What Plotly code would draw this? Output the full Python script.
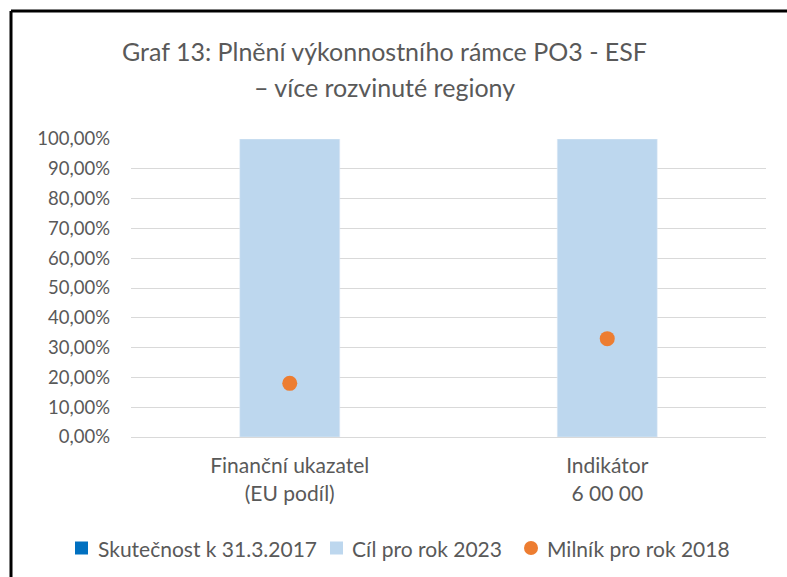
import plotly.graph_objects as go

categories = ["Finanční ukazatel<br>(EU podíl)", "Indikátor<br>6 00 00"]
skutecnost = [0.0, 0.0]
cil = [1.0, 1.0]
milnik = [0.18, 0.33]
title_lines = ["Graf 13: Plnění výkonnostního rámce PO3 - ESF", "– více rozvinuté regiony"]
series_names = ["Skutečnost k 31.3.2017", "Cíl pro rok 2023", "Milník pro rok 2018"]
series_colors = ["#0070C0", "#BDD7EE", "#ED7D31"]

FONT = "Lato, Liberation Sans, Arial, sans-serif"
GRAY = "#595959"

fig = go.Figure()
fig.add_trace(go.Bar(x=categories, y=skutecnost, name=series_names[0],
                     marker_color=series_colors[0]))
fig.add_trace(go.Bar(x=categories, y=cil, name=series_names[1],
                     marker_color=series_colors[1]))
fig.add_trace(go.Scatter(x=categories, y=milnik, name=series_names[2], mode="markers",
                         marker=dict(color=series_colors[2], size=15)))

L, R, T, B = 131, 21, 139, 140
W, H = 787, 577
pw, ph = W - L - R, H - T - B
def px(x): return (x - L) / pw
def py(y): return (H - B - y) / ph

annotations = []
for line, yc in zip(title_lines, [51, 87]):
    annotations.append(dict(text=line, xref="paper", yref="paper", x=px(384), y=py(yc),
                            xanchor="center", yanchor="middle", showarrow=False,
                            font=dict(size=25, color=GRAY, family=FONT)))

# manual legend (one row, like the original)
leg_y = 548
sym_x = [75, 330, 524]
txt_x = [96, 350, 545]
shapes = [
    dict(type="line", xref="paper", yref="paper", x0=px(11), x1=px(787), y0=py(11), y1=py(11),
         line=dict(color="black", width=3)),
    dict(type="line", xref="paper", yref="paper", x0=px(11), x1=px(11), y0=py(11), y1=py(577),
         line=dict(color="black", width=3)),
]
for i, (name, color) in enumerate(zip(series_names, series_colors)):
    shp = "circle" if i == 2 else "rect"
    size = 14 if i == 2 else 13
    shapes.append(dict(type=shp, xref="paper", yref="paper",
                       x0=px(sym_x[i]), x1=px(sym_x[i] + size),
                       y0=py(leg_y + size / 2), y1=py(leg_y - size / 2),
                       fillcolor=color, line=dict(width=0)))
    annotations.append(dict(text=name, xref="paper", yref="paper", x=px(txt_x[i]), y=py(leg_y),
                            xanchor="left", yanchor="middle", showarrow=False,
                            font=dict(size=21, color=GRAY, family=FONT)))

fig.update_layout(
    width=W, height=H,
    margin=dict(l=L, r=R, t=T, b=B, autoexpand=False),
    paper_bgcolor="white", plot_bgcolor="white",
    separators=", ",
    barmode="overlay", bargap=0.685,
    font=dict(family=FONT, color=GRAY, size=18),
    annotations=annotations,
    shapes=shapes,
    showlegend=False,
    xaxis=dict(showgrid=False, showline=True, linecolor="#d9d9d9", linewidth=1,
               tickfont=dict(size=21, color=GRAY), ticks="", ticklabelstandoff=10),
    yaxis=dict(range=[0, 1], tickvals=[i / 10 for i in range(11)], tickformat=".2%",
               showgrid=True, gridcolor="#d9d9d9", gridwidth=1, zeroline=False,
               tickfont=dict(size=18.5, color=GRAY), ticks="", ticklen=0, ticklabelstandoff=20),
)

fig.write_html("out.html", config={"displayModeBar": False},
               post_script="document.body.style.margin='0';")
